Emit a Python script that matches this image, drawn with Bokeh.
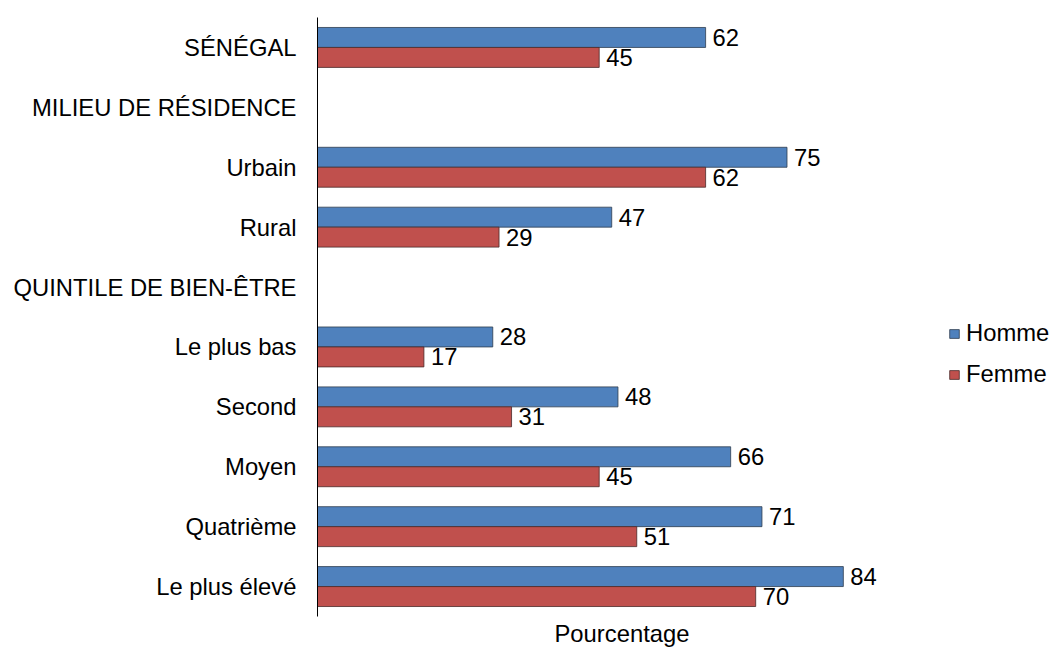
from bokeh.plotting import figure
from bokeh.models import FactorRange, Range1d, ColumnDataSource, Legend, LegendItem, Title
from bokeh.transform import dodge
from bokeh.core.properties import value
from bokeh.embed import file_html
from bokeh.resources import INLINE

categories = ["SÉNÉGAL", "MILIEU DE RÉSIDENCE", "Urbain", "Rural",
              "QUINTILE DE BIEN-ÊTRE", "Le plus bas", "Second", "Moyen",
              "Quatrième", "Le plus élevé"]
homme = [62, None, 75, 47, None, 28, 48, 66, 71, 84]
femme = [45, None, 62, 29, None, 17, 31, 45, 51, 70]
series_names = ["Homme", "Femme"]
x_label = "Pourcentage"

FONT = "Liberation Sans"
FS = "23.8px"
BLUE = "#4F81BD"
RED = "#C0504D"

W, H = 1051, 648
LEFT, TOP, BOTTOM = 317, 17, 31
FRAME_W = W - LEFT
X_MAX = 100.0 * FRAME_W / 626.0   # 0..100 spans 626 px, frame continues to the right edge

rows = [(c, h, f) for c, h, f in zip(categories, homme, femme) if h is not None]
src = ColumnDataSource(dict(
    cat=[r[0] for r in rows],
    h=[r[1] for r in rows],
    f=[r[2] for r in rows],
    hl=[str(r[1]) for r in rows],
    fl=[str(r[2]) for r in rows],
))

p = figure(width=W, height=H,
           y_range=FactorRange(factors=list(reversed(categories))),
           x_range=Range1d(0, X_MAX),
           x_axis_location=None,
           output_backend="svg", toolbar_location=None,
           min_border_left=LEFT, min_border_right=0,
           min_border_top=TOP, min_border_bottom=BOTTOM)
p.outline_line_color = None
p.xgrid.visible = False
p.ygrid.visible = False

yh = dodge("cat", 1/6, range=p.y_range)
yf = dodge("cat", -1/6, range=p.y_range)

rh = p.hbar(y=yh, right="h", left=0, height=1/3, source=src,
            fill_color=BLUE, line_color="#2f3d4f", line_width=0.8)
rf = p.hbar(y=yf, right="f", left=0, height=1/3, source=src,
            fill_color=RED, line_color="#4a2a2a", line_width=0.8)

p.text(x="h", y=yh, text="hl", source=src, x_offset=7, y_offset=0,
       text_baseline="middle", text_align="left", text_color="black",
       text_font=value(FONT), text_font_size=value(FS))
p.text(x="f", y=yf, text="fl", source=src, x_offset=7, y_offset=0,
       text_baseline="middle", text_align="left", text_color="black",
       text_font=value(FONT), text_font_size=value(FS))

ax = p.yaxis[0]
ax.axis_line_color = "black"
ax.axis_line_width = 1
ax.major_tick_line_color = None
ax.minor_tick_line_color = None
ax.major_tick_in = 0
ax.major_tick_out = 0
ax.major_label_standoff = 21
ax.major_label_text_font = FONT
ax.major_label_text_font_size = FS
ax.major_label_text_color = "black"

p.add_layout(Title(text=x_label, align="left", offset=237, text_font=FONT,
                   text_font_size=FS, text_font_style="normal",
                   text_color="black", standoff=3), "below")

legend = Legend(items=[LegendItem(label=series_names[0], renderers=[rh]),
                       LegendItem(label=series_names[1], renderers=[rf])],
                location=(631, 228), orientation="vertical",
                glyph_width=12, glyph_height=11, label_standoff=6,
                spacing=13, padding=0, margin=0,
                border_line_color=None, background_fill_alpha=0,
                label_text_font=FONT, label_text_font_size=FS,
                label_text_color="black")
p.add_layout(legend)

open("out.html", "w").write(file_html(p, INLINE))
